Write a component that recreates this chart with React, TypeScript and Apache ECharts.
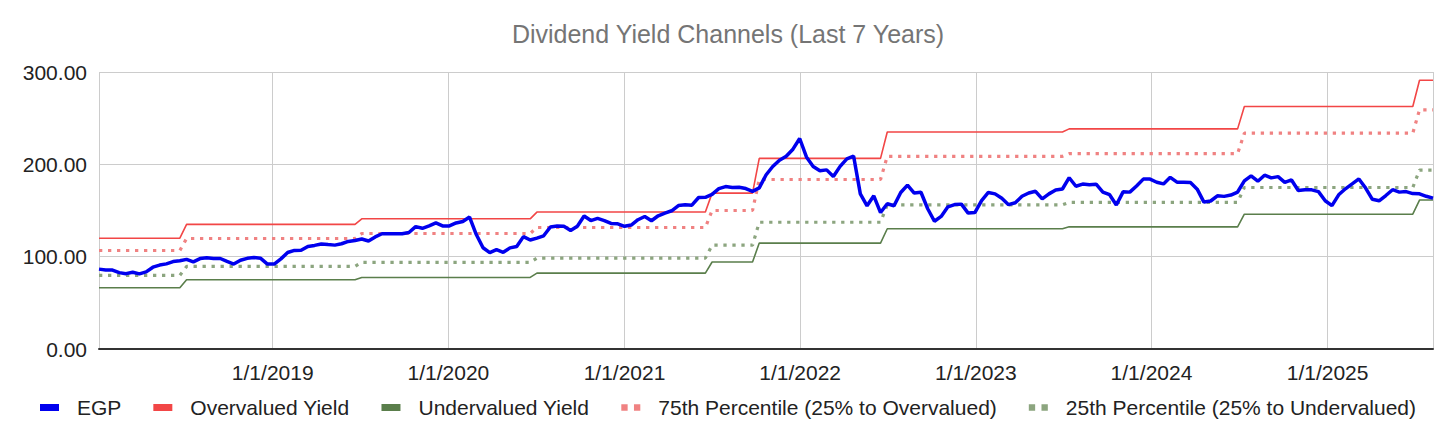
import React, { useEffect, useRef } from "react";
import * as echarts from "echarts";

const dates: string[] = [
  "2018-01-05","2018-01-19","2018-02-02","2018-02-16","2018-03-02","2018-03-16","2018-03-30","2018-04-13","2018-04-27","2018-05-11","2018-05-25","2018-06-08","2018-06-22","2018-07-06","2018-07-20","2018-08-03","2018-08-17","2018-08-31","2018-09-14","2018-09-28","2018-10-12","2018-10-26","2018-11-09","2018-11-23","2018-12-07","2018-12-21",
  "2019-01-04","2019-01-18","2019-02-01","2019-02-15","2019-03-01","2019-03-15","2019-03-29","2019-04-12","2019-04-26","2019-05-10","2019-05-24","2019-06-07","2019-06-21","2019-07-05","2019-07-19","2019-08-02","2019-08-16","2019-08-30","2019-09-13","2019-09-27","2019-10-11","2019-10-25","2019-11-08","2019-11-22","2019-12-06","2019-12-20",
  "2020-01-03","2020-01-17","2020-01-31","2020-02-14","2020-02-28","2020-03-13","2020-03-27","2020-04-10","2020-04-24","2020-05-08","2020-05-22","2020-06-05","2020-06-19","2020-07-03","2020-07-17","2020-07-31","2020-08-14","2020-08-28","2020-09-11","2020-09-25","2020-10-09","2020-10-23","2020-11-06","2020-11-20","2020-12-04","2020-12-18",
  "2021-01-01","2021-01-15","2021-01-29","2021-02-12","2021-02-26","2021-03-12","2021-03-26","2021-04-09","2021-04-23","2021-05-07","2021-05-21","2021-06-04","2021-06-18","2021-07-02","2021-07-16","2021-07-30","2021-08-13","2021-08-27","2021-09-10","2021-09-24","2021-10-08","2021-10-22","2021-11-05","2021-11-19","2021-12-03","2021-12-17","2021-12-31",
  "2022-01-14","2022-01-28","2022-02-11","2022-02-25","2022-03-11","2022-03-25","2022-04-08","2022-04-22","2022-05-06","2022-05-20","2022-06-03","2022-06-17","2022-07-01","2022-07-15","2022-07-29","2022-08-12","2022-08-26","2022-09-09","2022-09-23","2022-10-07","2022-10-21","2022-11-04","2022-11-18","2022-12-02","2022-12-16","2022-12-30",
  "2023-01-13","2023-01-27","2023-02-10","2023-02-24","2023-03-10","2023-03-24","2023-04-07","2023-04-21","2023-05-05","2023-05-19","2023-06-02","2023-06-16","2023-06-30","2023-07-14","2023-07-28","2023-08-11","2023-08-25","2023-09-08","2023-09-22","2023-10-06","2023-10-20","2023-11-03","2023-11-17","2023-12-01","2023-12-15","2023-12-29",
  "2024-01-12","2024-01-26","2024-02-09","2024-02-23","2024-03-08","2024-03-22","2024-04-05","2024-04-19","2024-05-03","2024-05-17","2024-05-31","2024-06-14","2024-06-28","2024-07-12","2024-07-26","2024-08-09","2024-08-23","2024-09-06","2024-09-20","2024-10-04","2024-10-18","2024-11-01","2024-11-15","2024-11-29","2024-12-13","2024-12-27",
  "2025-01-10","2025-01-24","2025-02-07","2025-02-21","2025-03-07","2025-03-21","2025-04-04","2025-04-18","2025-05-02","2025-05-16","2025-05-30","2025-06-13","2025-06-27","2025-07-11","2025-07-25","2025-08-08",
];

const egp: number[] = [
  86.5, 85.5, 85.5, 82.7, 81.6, 83.2, 81.4, 83.5, 88.6, 90.9,
  92.2, 94.7, 95.5, 97.1, 94.4, 97.9, 98.8, 98.1, 98.0, 94.8,
  92.0, 96.1, 98.2, 99.0, 98.2, 92.0, 92.0, 97.6, 104.5, 106.8,
  106.9, 111.1, 112.2, 113.8, 113.1, 112.5, 114.0, 116.5, 117.5, 119.1,
  117.0, 121.4, 124.8, 124.8, 124.8, 124.9, 126.2, 132.5, 130.7, 133.3,
  136.5, 133.3, 133.3, 136.5, 138.1, 142.9, 124.0, 109.7, 104.4, 107.6,
  104.7, 109.5, 111.0, 121.7, 118.0, 120.1, 122.6, 132.2, 133.1, 133.0,
  128.4, 133.0, 144.0, 139.1, 141.5, 139.1, 136.0, 135.6, 132.9, 134.2,
  140.0, 143.5, 138.9, 144.3, 147.2, 149.7, 155.4, 156.2, 155.8, 164.1,
  164.3, 167.5, 173.7, 175.9, 175.0, 175.2, 173.8, 170.7, 174.5, 188.4,
  197.7, 204.5, 208.7, 216.4, 228.0, 208.0, 197.7, 193.0, 194.0, 186.8,
  197.8, 206.0, 209.0, 168.0, 155.1, 165.9, 147.8, 157.3, 155.1, 169.5,
  177.5, 168.9, 169.8, 151.9, 138.4, 143.6, 154.0, 156.4, 156.9, 147.2,
  147.8, 160.8, 169.5, 168.0, 163.2, 156.3, 158.4, 165.4, 169.0, 170.8,
  162.5, 168.0, 172.2, 173.3, 185.5, 176.3, 178.6, 177.9, 178.5, 170.0,
  167.1, 155.9, 170.2, 169.9, 176.6, 184.0, 184.0, 180.6, 178.8, 185.9,
  180.7, 180.7, 180.2, 173.1, 159.1, 160.3, 165.9, 165.3, 166.7, 170.0,
  182.0, 187.5, 181.7, 188.2, 185.3, 186.7, 180.4, 183.1, 171.6, 172.4,
  172.4, 170.4, 160.6, 155.3, 167.0, 173.5, 178.8, 184.2, 174.3, 162.1,
  160.5, 166.2, 172.5, 169.9, 170.5, 168.3, 168.1, 165.4, 163.4,
];

// Channel levels: each level holds from levelStart[k] to levelEnd[k]
const levelStart: string[] = ["2018-01-05","2018-07-06","2019-07-05","2020-07-03","2021-07-02","2021-10-08","2022-07-01","2023-07-14","2024-07-12","2025-07-11"];
const levelEnd: string[] = ["2018-06-22","2019-06-21","2020-06-19","2021-06-18","2021-09-24","2022-06-17","2023-06-30","2024-06-28","2025-06-27","2025-08-08"];
const overvalued: number[] = [120, 135, 141, 148.3, 168.8, 206.5, 235, 238.4, 262.6, 291];
const p75: number[] = [106.7, 119.7, 125.1, 131.6, 150, 183.6, 208.7, 211.6, 233.8, 259];
const undervalued: number[] = [66.3, 75, 77.5, 82.2, 94.2, 114.7, 130.2, 132.3, 146, 161.3];
const p25: number[] = [79.7, 89.4, 93.8, 98.5, 112.4, 137.3, 156.2, 158.9, 174.9, 193.8];

const yTicks: number[] = [0, 100, 200, 300];

const seriesNames = [
  "EGP",
  "Overvalued Yield",
  "Undervalued Yield",
  "75th Percentile (25% to Overvalued)",
  "25th Percentile (25% to Undervalued)",
];

const FONT = "'Liberation Sans', Arial, sans-serif";

function stepPoints(levels: number[]): [string, number][] {
  const pts: [string, number][] = [];
  levels.forEach((v, k) => {
    pts.push([levelStart[k], v]);
    pts.push([levelEnd[k], v]);
  });
  return pts;
}

export default function App() {
  const ref = useRef<HTMLDivElement>(null);
  useEffect(() => {
    if (!ref.current) return;
    const chart = echarts.init(ref.current, null, { renderer: "svg" });
    const YEAR = 365 * 24 * 3600 * 1000;
    const dotIcon = "path://M0,0h6v6h-6z M12,0h6v6h-6z";
    chart.setOption({
      animation: false,
      backgroundColor: "#ffffff",
      title: {
        text: "Dividend Yield Channels (Last 7 Years)",
        left: "center",
        top: 21,
        padding: 0,
        textStyle: { color: "#757575", fontSize: 25, fontWeight: "normal", fontFamily: FONT },
      },
      legend: {
        left: "center",
        top: 397,
        padding: 0,
        itemGap: 32,
        itemWidth: 19,
        itemHeight: 7,
        itemStyle: { borderWidth: 0 },
        textStyle: { color: "#222222", fontSize: 21, fontFamily: FONT, padding: [0, 0, 0, 13] },
        data: [
          { name: seriesNames[0], icon: "rect" },
          { name: seriesNames[1], icon: "rect" },
          { name: seriesNames[2], icon: "rect" },
          { name: seriesNames[3], icon: dotIcon },
          { name: seriesNames[4], icon: dotIcon },
        ],
      },
      grid: { left: 99, right: 23, top: 72, bottom: 91, containLabel: false },
      xAxis: {
        type: "time",
        min: dates[0],
        max: dates[dates.length - 1],
        minInterval: YEAR,
        maxInterval: YEAR,
        axisLine: { show: true, lineStyle: { color: "#333333", width: 2 } },
        axisTick: { show: false },
        splitLine: { show: true, lineStyle: { color: "#cccccc", width: 1 } },
        axisLabel: {
          showMinLabel: false,
          showMaxLabel: false,
          margin: 13,
          color: "#222222",
          fontSize: 21,
          fontFamily: FONT,
          formatter: (v: number) => {
            const d = new Date(v);
            return `${d.getMonth() + 1}/${d.getDate()}/${d.getFullYear()}`;
          },
        },
      },
      yAxis: {
        type: "value",
        min: yTicks[0],
        max: yTicks[yTicks.length - 1],
        interval: 100,
        axisLine: { show: false },
        axisTick: { show: false },
        splitLine: { show: true, lineStyle: { color: "#cccccc", width: 1 } },
        axisLabel: {
          margin: 12,
          color: "#222222",
          fontSize: 21,
          fontFamily: FONT,
          formatter: (v: number) => v.toFixed(2),
        },
      },
      series: [
        {
          name: seriesNames[0],
          type: "line",
          data: dates.map((d, i) => [d, egp[i]]),
          showSymbol: false,
          symbol: "none",
          z: 10,
          itemStyle: { color: "#0000ee" },
          lineStyle: { color: "#0000ee", width: 3.5 },
        },
        {
          name: seriesNames[1],
          type: "line",
          data: stepPoints(overvalued),
          showSymbol: false,
          symbol: "none",
          z: 5,
          itemStyle: { color: "#f24646" },
          lineStyle: { color: "#f24646", width: 1.6 },
        },
        {
          name: seriesNames[2],
          type: "line",
          data: stepPoints(undervalued),
          showSymbol: false,
          symbol: "none",
          z: 5,
          itemStyle: { color: "#5a7e4b" },
          lineStyle: { color: "#5a7e4b", width: 1.6 },
        },
        {
          name: seriesNames[3],
          type: "line",
          data: stepPoints(p75),
          showSymbol: false,
          symbol: "none",
          z: 4,
          itemStyle: { color: "#f08282" },
          lineStyle: { color: "#f08282", width: 3.2, type: [3.3, 5.7] },
        },
        {
          name: seriesNames[4],
          type: "line",
          data: stepPoints(p25),
          showSymbol: false,
          symbol: "none",
          z: 4,
          itemStyle: { color: "#8ca57f" },
          lineStyle: { color: "#8ca57f", width: 3.2, type: [3.3, 5.7] },
        },
      ],
    });
    return () => chart.dispose();
  }, []);
  return (
    <div
      ref={ref}
      style={{ position: "fixed", left: 0, top: 0, width: 1456, height: 440, background: "#fff" }}
    />
  );
}
